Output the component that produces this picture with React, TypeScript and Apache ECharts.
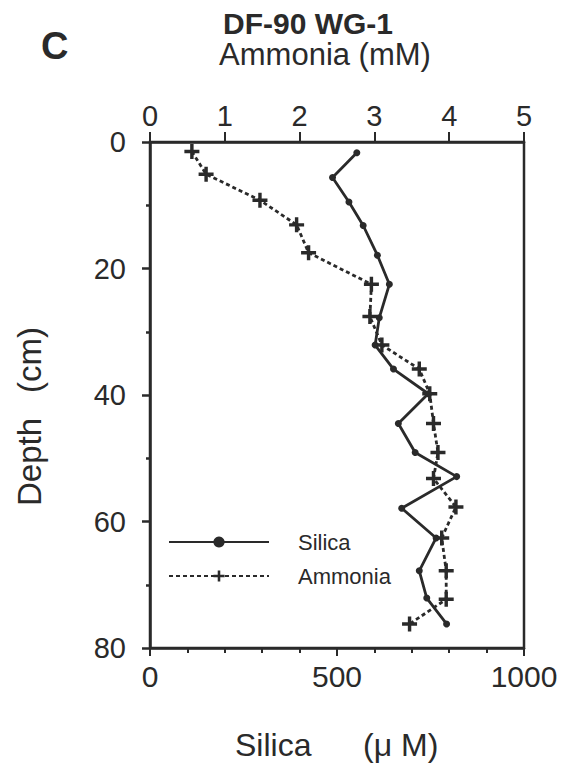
import React, { useEffect, useRef } from "react";
import * as echarts from "echarts";

const silicaDepth = [1.7, 5.6, 9.5, 13.2, 17.9, 22.5, 27.8, 32.1, 35.9, 39.8, 44.5, 49.1, 52.9, 57.9, 62.6, 67.8, 72.1, 76.2];
const silicaValues = [553, 488, 532, 570, 608, 640, 613, 602, 651, 744, 664, 709, 820, 673, 765, 720, 740, 793];
const ammoniaDepth = [1.5, 5.1, 9.2, 13.1, 17.5, 22.5, 27.6, 32.1, 35.9, 39.8, 44.5, 49.1, 53.2, 57.7, 62.6, 67.8, 72.3, 76.2];
const ammoniaValues = [0.56, 0.75, 1.47, 1.96, 2.12, 2.96, 2.94, 3.1, 3.6, 3.74, 3.79, 3.85, 3.79, 4.09, 3.9, 3.96, 3.96, 3.47];

const INK = "#2a2a2a";
const FONT = "'Liberation Sans', Arial, Helvetica, sans-serif";
const PLUS = "path://M-1.6,-7L1.6,-7L1.6,-1.6L7,-1.6L7,1.6L1.6,1.6L1.6,7L-1.6,7L-1.6,1.6L-7,1.6L-7,-1.6L-1.6,-1.6Z";

export default function App() {
  const ref = useRef<HTMLDivElement>(null);
  useEffect(() => {
    if (!ref.current) return;
    const chart = echarts.init(ref.current, undefined, { renderer: "svg" });
    const silicaData = silicaValues.map((v, i) => [v, silicaDepth[i]]);
    const ammoniaData = ammoniaValues.map((v, i) => [v, ammoniaDepth[i]]);
    chart.setOption({
      animation: false,
      backgroundColor: "#fff",
      textStyle: { fontFamily: FONT, color: INK },
      grid: { left: 150, right: 44, top: 142, bottom: 115, show: true, borderColor: INK, borderWidth: 2.5, backgroundColor: "transparent" },
      xAxis: [
        {
          type: "value", position: "bottom", min: 0, max: 1000, interval: 500,
          axisLine: { show: true, onZero: false, lineStyle: { color: INK, width: 2.5 } },
          axisTick: { show: true, inside: false, length: 8, lineStyle: { color: INK, width: 2 } },
          minorTick: { show: true, splitNumber: 5, length: 5, lineStyle: { color: INK, width: 2 } },
          splitLine: { show: false },
          axisLabel: { fontSize: 30, color: INK, margin: 13, fontFamily: FONT, formatter: (v: number) => String(v) },
        },
        {
          type: "value", position: "top", min: 0, max: 5, interval: 1,
          axisLine: { show: true, onZero: false, lineStyle: { color: INK, width: 2.5 } },
          axisTick: { show: true, inside: false, length: 10, lineStyle: { color: INK, width: 2 } },
          splitLine: { show: false },
          axisLabel: { fontSize: 29, color: INK, margin: 12, fontFamily: FONT },
        },
      ],
      yAxis: {
        type: "value", min: 0, max: 80, interval: 20, inverse: true,
        axisLine: { show: true, onZero: false, lineStyle: { color: INK, width: 2.5 } },
        axisTick: { show: true, inside: false, length: 8, lineStyle: { color: INK, width: 2.5 } },
        minorTick: { show: true, splitNumber: 2, length: 4, lineStyle: { color: INK, width: 2.5 } },
        splitLine: { show: false },
        axisLabel: { fontSize: 29, color: INK, margin: 24, fontFamily: FONT },
      },
      legend: {
        orient: "vertical", left: 163, top: 526, itemWidth: 100, itemHeight: 14, itemGap: 12,
        data: ["Silica", "Ammonia"],
        textStyle: { fontSize: 22, color: INK, fontFamily: FONT, padding: [0, 0, 0, 24] },
      },
      series: [
        {
          name: "Silica", type: "line", xAxisIndex: 0, data: silicaData,
          symbol: "circle", symbolSize: 7, showSymbol: true,
          lineStyle: { color: INK, width: 2.8, type: "solid" },
          itemStyle: { color: INK },
        },
        {
          name: "Ammonia", type: "line", xAxisIndex: 1, data: ammoniaData,
          symbol: PLUS, symbolSize: 15, showSymbol: true,
          lineStyle: { color: INK, width: 2.8, type: [4, 3] },
          itemStyle: { color: INK },
        },
      ],
      graphic: [
        { type: "text", left: 41, top: 27, style: { text: "C", font: `bold 38px ${FONT}`, fill: INK } },
        { type: "text", x: 308, y: 23, style: { text: "DF-90 WG-1", font: `bold 30px ${FONT}`, lineHeight: 26, fill: INK, align: "center", verticalAlign: "middle" } },
        { type: "text", x: 325, y: 54, style: { text: "Ammonia (mM)", font: `31px ${FONT}`, lineHeight: 26, fill: INK, align: "center", verticalAlign: "middle" } },
        { type: "text", x: 29, y: 462, rotation: Math.PI / 2, style: { text: "Depth", font: `33px ${FONT}`, fill: INK, align: "center", verticalAlign: "middle" } },
        { type: "text", x: 29, y: 360, rotation: Math.PI / 2, style: { text: "(cm)", font: `33px ${FONT}`, fill: INK, align: "center", verticalAlign: "middle" } },
        { type: "text", x: 235, y: 745, style: { text: "Silica", font: `32px ${FONT}`, fill: INK, align: "left", verticalAlign: "middle" } },
        { type: "text", x: 363, y: 745, style: { text: "(μ M)", font: `32px ${FONT}`, fill: INK, align: "left", verticalAlign: "middle" } },
      ],
    });
    return () => chart.dispose();
  }, []);
  return <div ref={ref} style={{ position: "fixed", left: 0, top: 0, width: 568, height: 763, background: "#fff" }} />;
}
